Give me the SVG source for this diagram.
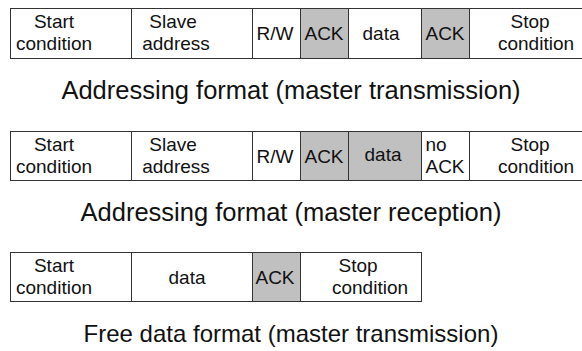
<svg xmlns="http://www.w3.org/2000/svg" width="582" height="351" viewBox="0 0 582 351">
<style>
.cell{fill:#ffffff;stroke:#333333;stroke-width:1}
.ack{fill:#c0c0c0;stroke:#333333;stroke-width:1}
text{font-family:"Liberation Sans",Arial,sans-serif;fill:#111111}
.t{font-size:19px;text-anchor:middle}
.ttl{font-size:25.5px;text-anchor:middle}
</style>
<rect width="582" height="351" fill="#ffffff"/>
<g id="row1">
  <g id="r1-start"><rect class="cell" x="10.5" y="8.5" width="121" height="50"/><text class="t" x="54" y="28">Start</text><text class="t" x="54" y="50">condition</text></g>
  <g id="r1-slave"><rect class="cell" x="131.5" y="8.5" width="121" height="50"/><text class="t" x="173" y="28">Slave</text><text class="t" x="176" y="50">address</text></g>
  <g id="r1-rw"><rect class="cell" x="252.5" y="8.5" width="48" height="50"/><text class="t" x="275" y="40">R/W</text></g>
  <g id="r1-ack1"><rect class="ack" x="300.5" y="8.5" width="48" height="50"/><text class="t" x="324" y="40">ACK</text></g>
  <g id="r1-data"><rect class="cell" x="348.5" y="8.5" width="73" height="50"/><text class="t" x="381" y="40">data</text></g>
  <g id="r1-ack2"><rect class="ack" x="421.5" y="8.5" width="48" height="50"/><text class="t" x="445" y="40">ACK</text></g>
  <g id="r1-stop"><rect class="cell" x="469.5" y="8.5" width="120" height="50"/><text class="t" x="530" y="28">Stop</text><text class="t" x="536" y="50">condition</text></g>
</g>
<text class="ttl" x="291" y="99">Addressing format (master transmission)</text>
<g id="row2">
  <g id="r2-start"><rect class="cell" x="10.5" y="131.5" width="121" height="49"/><text class="t" x="54" y="151">Start</text><text class="t" x="54" y="173">condition</text></g>
  <g id="r2-slave"><rect class="cell" x="131.5" y="131.5" width="121" height="49"/><text class="t" x="173" y="151">Slave</text><text class="t" x="176" y="173">address</text></g>
  <g id="r2-rw"><rect class="cell" x="252.5" y="131.5" width="48" height="49"/><text class="t" x="275" y="163">R/W</text></g>
  <g id="r2-ack"><rect class="ack" x="300.5" y="131.5" width="48" height="49"/><text class="t" x="324" y="163">ACK</text></g>
  <g id="r2-data"><rect class="ack" x="348.5" y="131.5" width="73" height="49"/><text class="t" x="383" y="161">data</text></g>
  <g id="r2-noack"><rect class="cell" x="421.5" y="131.5" width="48" height="49"/><text class="t" x="436" y="151">no</text><text class="t" x="445" y="173">ACK</text></g>
  <g id="r2-stop"><rect class="cell" x="469.5" y="131.5" width="120" height="49"/><text class="t" x="530" y="151">Stop</text><text class="t" x="536" y="173">condition</text></g>
</g>
<text class="ttl" x="291" y="221">Addressing format (master reception)</text>
<g id="row3">
  <g id="r3-start"><rect class="cell" x="10.5" y="252.5" width="121" height="49"/><text class="t" x="54" y="272">Start</text><text class="t" x="54" y="294">condition</text></g>
  <g id="r3-data"><rect class="cell" x="131.5" y="252.5" width="121" height="49"/><text class="t" x="187" y="284">data</text></g>
  <g id="r3-ack"><rect class="ack" x="252.5" y="252.5" width="48" height="49"/><text class="t" x="275" y="284">ACK</text></g>
  <g id="r3-stop"><rect class="cell" x="300.5" y="252.5" width="121" height="49"/><text class="t" x="358" y="272">Stop</text><text class="t" x="370" y="294">condition</text></g>
</g>
<text class="ttl" x="291" y="342" style="font-size:24px">Free data format (master transmission)</text>
</svg>
